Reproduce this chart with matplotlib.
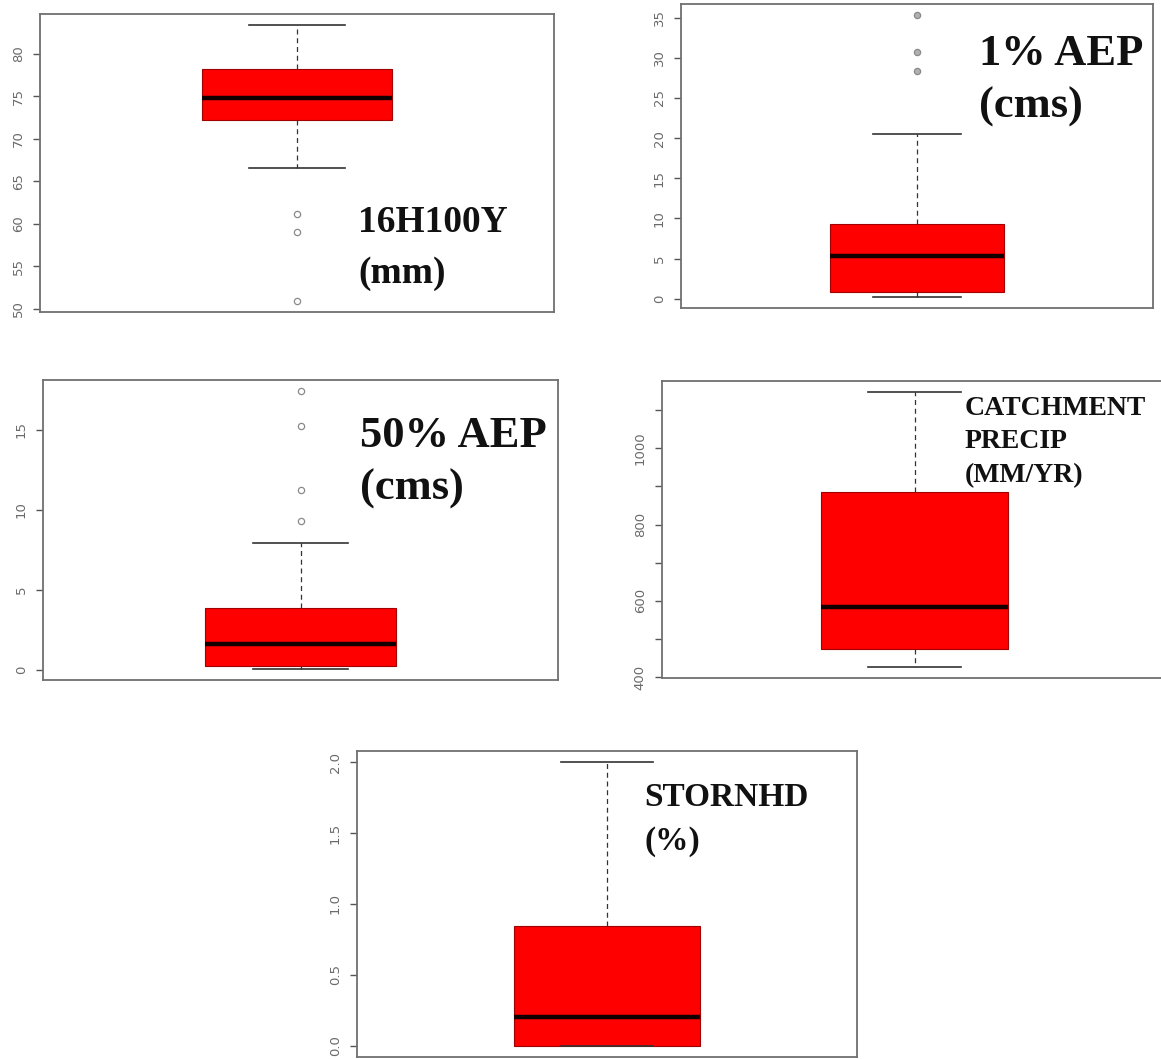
import matplotlib
matplotlib.use("Agg")
import matplotlib.pyplot as plt

# Summary statistics for each variable (box-and-whisker)
p1_q1, p1_med, p1_q3, p1_lo, p1_hi = 72.2, 74.8, 78.2, 66.6, 83.4
p1_out = [61.1, 59.0, 50.9]
p1_ticks = [50, 55, 60, 65, 70, 75, 80]
p1_labels = ["50", "55", "60", "65", "70", "75", "80"]
p1_title = ["16H100Y", "(mm)"]

p2_q1, p2_med, p2_q3, p2_lo, p2_hi = 0.9, 5.3, 9.3, 0.25, 20.5
p2_out = [35.3, 30.75, 28.4]
p2_ticks = [0, 5, 10, 15, 20, 25, 30, 35]
p2_labels = ["0", "5", "10", "15", "20", "25", "30", "35"]
p2_title = ["1% AEP", "(cms)"]

p3_q1, p3_med, p3_q3, p3_lo, p3_hi = 0.2, 1.62, 3.86, 0.05, 7.94
p3_out = [17.4, 15.2, 11.2, 9.3]
p3_ticks = [0, 5, 10, 15]
p3_labels = ["0", "5", "10", "15"]
p3_title = ["50% AEP", "(cms)"]

p4_q1, p4_med, p4_q3, p4_lo, p4_hi = 475, 584, 886, 427, 1147
p4_out = []
p4_ticks = [400, 500, 600, 700, 800, 900, 1000, 1100]
p4_labels = ["400", "", "600", "", "800", "", "1000", ""]
p4_title = ["CATCHMENT", "PRECIP", "(MM/YR)"]

p5_q1, p5_med, p5_q3, p5_lo, p5_hi = 0.0, 0.20, 0.847, 0.0, 2.0
p5_out = []
p5_ticks = [0.0, 0.5, 1.0, 1.5, 2.0]
p5_labels = ["0.0", "0.5", "1.0", "1.5", "2.0"]
p5_title = ["STORNHD", "(%)"]

W, H = 1161, 1059
fig = plt.figure(figsize=(W / 100, H / 100), dpi=100)
fig.patch.set_facecolor("white")


def add_panel(box, q1, med, q3, lo, hi, out, ticks, labels,
              title, tpos, tsize, tstep, flier_fill="none"):
    l, t, r, b = box
    ax = fig.add_axes([l / W, 1 - b / H, (r - l) / W, (b - t) / H])
    stats = [dict(med=med, q1=q1, q3=q3, whislo=lo, whishi=hi, fliers=out)]
    ax.bxp(stats, positions=[1], widths=0.4, patch_artist=True,
           showfliers=True,
           boxprops=dict(facecolor="#ff0000", edgecolor="#a00000", linewidth=0.8),
           medianprops=dict(color="#120000", linewidth=3.2, solid_capstyle="butt"),
           whiskerprops=dict(color="#333333", linewidth=0.9, linestyle=(0, (4, 3))),
           capprops=dict(color="#333333", linewidth=1.2),
           capwidths=0.2,
           flierprops=dict(marker="o", markersize=4.5, markerfacecolor=flier_fill,
                           markeredgecolor="#8a8a8a", markeredgewidth=0.9))
    vals = [lo, hi] + list(out)
    span = max(vals) - min(vals)
    ax.set_ylim(min(vals) - 0.04 * span, max(vals) + 0.04 * span)
    ax.set_xlim(0.46, 1.54)
    ax.set_xticks([])
    ax.set_yticks(ticks)
    ax.set_yticklabels(labels, rotation=90, va="center")
    ax.tick_params(axis="y", length=5, width=1.0, color="#555555",
                   labelcolor="#6a6a6a", labelsize=9.5, pad=6)
    for s in ax.spines.values():
        s.set_color("#707070")
        s.set_linewidth(1.3)
    x0, y0 = tpos
    for i, line in enumerate(title):
        fig.text(x0 / W, 1 - (y0 + i * tstep) / H, line,
                 family=["Liberation Serif", "DejaVu Serif"], weight="bold",
                 fontsize=tsize, color="#111111", ha="left", va="baseline")
    return ax


add_panel((40, 14, 554, 312), p1_q1, p1_med, p1_q3, p1_lo, p1_hi, p1_out,
          p1_ticks, p1_labels, p1_title, (358, 232), 27, 51)
add_panel((681, 4, 1153, 308), p2_q1, p2_med, p2_q3, p2_lo, p2_hi, p2_out,
          p2_ticks, p2_labels, p2_title, (979, 65), 32, 53, flier_fill="#b0b0b0")
add_panel((43, 380, 558, 680), p3_q1, p3_med, p3_q3, p3_lo, p3_hi, p3_out,
          p3_ticks, p3_labels, p3_title, (360, 447), 32, 53)
add_panel((662, 381, 1167, 678), p4_q1, p4_med, p4_q3, p4_lo, p4_hi, p4_out,
          p4_ticks, p4_labels, p4_title, (965, 415), 20, 33.5)
add_panel((357, 751, 857, 1057), p5_q1, p5_med, p5_q3, p5_lo, p5_hi, p5_out,
          p5_ticks, p5_labels, p5_title, (644, 806), 24, 44)

fig.savefig("out.png", dpi=100, facecolor="white")
